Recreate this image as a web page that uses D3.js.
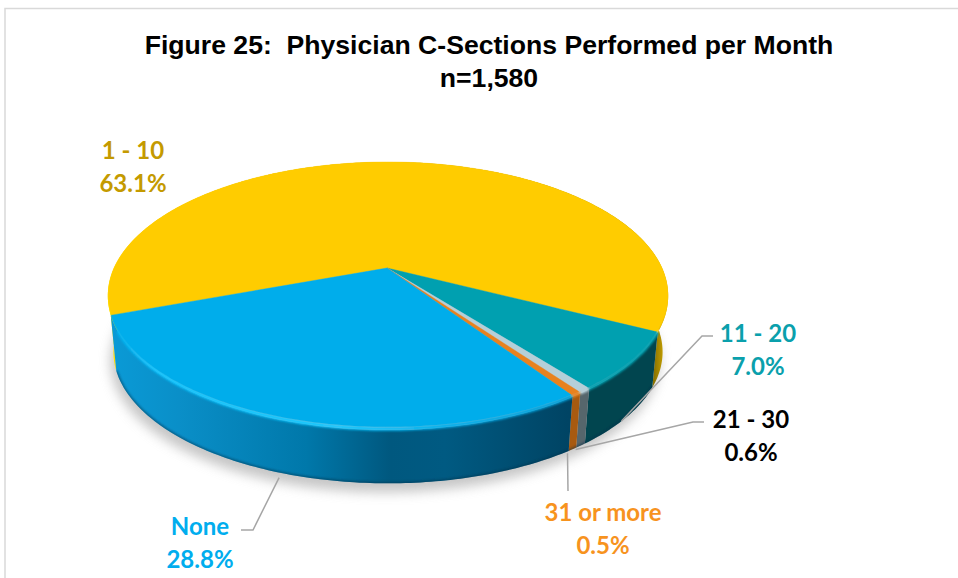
<!DOCTYPE html>
<html>
<head>
<meta charset="utf-8">
<script src="https://cdn.jsdelivr.net/npm/d3@7"></script>
<style>
  html, body { margin: 0; background: #fff; }
  .title { font-family: "Liberation Sans", Arial, sans-serif; font-weight: bold; font-size: 26.6px; fill: #000; white-space: pre; }
  .lab { font-family: Lato, "Open Sans", sans-serif; font-weight: bold; font-size: 24px; }
</style>
</head>
<body>
<svg id="chart" width="958" height="578"></svg>
<script>
var categories = ["1 - 10", "11 - 20", "21 - 30", "31 or more", "None"];
var values = [63.1, 7.0, 0.6, 0.5, 28.8];
var valueLabels = ["63.1%", "7.0%", "0.6%", "0.5%", "28.8%"];
var titleLines = ["Figure 25:  Physician C-Sections Performed per Month", "n=1,580"];

var topColors = ["#ffcc00", "#00a0b0", "#b5cfd8", "#e8821e", "#00adeb"];
var lipColors = ["url(#goldRim)", "#00a0b0", "#b5cfd8", "#e8821e", "url(#shine)"];
var labelColors = ["#c49a00", "#0aa0ac", "#000000", "#f7931e", "#00adee"];
// side wall gradient, left to right of the pie
var sideStops = [
  [[0, "#ffe000"], [0.5, "#c9a000"], [0.95, "#5f5000"], [0.975, "#8a7300"], [1, "#e0b400"]],
  [[0, "#01454f"], [1, "#01454f"]],
  [[0, "#56666c"], [1, "#56666c"]],
  [[0, "#a85a10"], [1, "#a85a10"]],
  [[0, "#0a9ad6"], [0.12, "#0a8fc8"], [0.35, "#0078aa"], [0.5, "#00587f"], [0.6, "#005a82"], [0.82, "#004464"], [1, "#004464"]]
];

// label layout: centre x, first baseline, elbow and end of the leader
var labelX = [133, 758, 751, 603, 200];
var labelY = [159, 342, 428, 521, 535];
var leaders = [null, [[702, 336], [713, 336]], [[693, 422], [704, 422]], [[568, 491]], [[253, 530], [241, 530]]];

var svg = d3.select("#chart");
var defs = svg.append("defs");

var cx = 388, cy = 268;
var k = 0.209;            // perspective of the tilted disc
var A = 274, B = 128.2;
var wallDrop = 56.5, wallShrink = 0.98;

var xScale = d3.scaleLinear().domain([-1, 1]).range([cx - A, cx + A]);
var yScale = d3.scaleLinear().domain([-1, 1]).range([cy - B, cy + B]);

function topPoint(a) {
  var u = Math.sin(a), v = -Math.cos(a), w = 1 - k * v;
  return [xScale(u / w), yScale(v / w)];
}
function wallPoint(a) {
  var p = topPoint(a);
  return [cx + (p[0] - cx) * wallShrink, cy + wallDrop + (p[1] - cy) * wallShrink];
}
// pulled in on the near side only, the far rim stays crisp
function insetPoint(a, amount) {
  var p = topPoint(a);
  var near = Math.max(0, -Math.cos(a));
  return [cx + (p[0] - cx) * (1 - amount * 0.4 * near), cy + (p[1] - cy) * (1 - amount * near)];
}
function sample(a0, a1) {
  var n = Math.max(2, Math.ceil(Math.abs(a1 - a0) / 0.015));
  return d3.range(n + 1).map(function(i) { return a0 + (a1 - a0) * i / n; });
}

var startAngle = -110.1 * Math.PI / 180;
var arcs = d3.pie().sort(null).startAngle(startAngle).endAngle(startAngle + 2 * Math.PI)(values);
var openLine = d3.line();
var closedLine = d3.line().curve(d3.curveLinearClosed);
var whole = sample(0, 2 * Math.PI);

defs.append("filter").attr("id", "shadowBlur")
  .attr("x", "-10%").attr("y", "-10%").attr("width", "120%").attr("height", "120%")
  .append("feGaussianBlur").attr("stdDeviation", 6);
defs.append("filter").attr("id", "edgeBlur")
  .attr("filterUnits", "userSpaceOnUse")
  .attr("x", 0).attr("y", 0).attr("width", 958).attr("height", 578)
  .append("feGaussianBlur").attr("stdDeviation", 1.2);

// keeps the blurred rim on the body of the pie
var clip = defs.append("clipPath").attr("id", "bodyClip");
clip.append("path").attr("d", closedLine(whole.map(topPoint)));
clip.append("path").attr("d", closedLine(whole.map(wallPoint)));
clip.append("path").attr("d", closedLine(whole.map(topPoint).concat(whole.slice().reverse().map(wallPoint))));

var sideGrad = defs.selectAll(".side").data(sideStops).enter().append("linearGradient")
  .attr("class", "side")
  .attr("id", function(d, i) { return "side" + i; })
  .attr("gradientUnits", "userSpaceOnUse")
  .attr("x1", 112).attr("x2", 668).attr("y1", 0).attr("y2", 0);
sideGrad.selectAll("stop").data(function(d) { return d; }).enter().append("stop")
  .attr("offset", function(d) { return d[0]; })
  .attr("stop-color", function(d) { return d[1]; });

var shine = defs.append("linearGradient").attr("id", "shine")
  .attr("gradientUnits", "userSpaceOnUse")
  .attr("x1", 112).attr("x2", 570).attr("y1", 0).attr("y2", 0);
[[0, "#00adeb"], [0.1, "#10c4ff"], [0.5, "#12c6ff"], [0.75, "#00adeb"], [1, "#00a0da"]].forEach(function(s) {
  shine.append("stop").attr("offset", s[0]).attr("stop-color", s[1]);
});
var goldRim = defs.append("linearGradient").attr("id", "goldRim")
  .attr("gradientUnits", "userSpaceOnUse")
  .attr("x1", 108).attr("x2", 170).attr("y1", 0).attr("y2", 0);
[[0, "#ffe400"], [1, "#ffcc00"]].forEach(function(s) {
  goldRim.append("stop").attr("offset", s[0]).attr("stop-color", s[1]);
});

// frame
svg.append("path").attr("d", "M5,578V8.5H958").attr("fill", "none")
  .attr("stroke", "#d9d9d9").attr("stroke-width", 1.5);

// title
svg.selectAll(".title").data(titleLines).enter().append("text")
  .attr("class", "title")
  .attr("x", 489)
  .attr("y", function(d, i) { return 54 + i * 33; })
  .attr("text-anchor", "middle")
  .attr("xml:space", "preserve")
  .text(function(d) { return d; });

// soft shadow under the disc
svg.append("path")
  .attr("d", closedLine(whole.map(function(a) { var p = wallPoint(a); return [p[0] - 3, p[1] + 9]; })))
  .attr("fill", "#a0a0a0").attr("opacity", 0.6)
  .attr("filter", "url(#shadowBlur)");

// side walls
svg.selectAll(".wall").data(arcs).enter().append("path")
  .attr("class", "wall")
  .attr("d", function(d) {
    var as = sample(d.startAngle, d.endAngle);
    return closedLine(as.map(topPoint).concat(as.slice().reverse().map(wallPoint)));
  })
  .attr("fill", function(d, i) { return "url(#side" + i + ")"; });

var rim = svg.append("g").attr("clip-path", "url(#bodyClip)");

// dark fringe along the foot of the wall
rim.selectAll(".foot").data(arcs.slice(1)).enter().append("path")
  .attr("class", "foot")
  .attr("d", function(d) { return openLine(sample(d.startAngle, d.endAngle).map(wallPoint)); })
  .attr("fill", "none")
  .attr("stroke", "#00304a").attr("stroke-opacity", 0.5).attr("stroke-width", 3)
  .attr("filter", "url(#edgeBlur)");

// soft bevel between wall and top face
rim.selectAll(".lip").data(arcs).enter().append("path")
  .attr("class", "lip")
  .attr("d", function(d) {
    return openLine(sample(d.startAngle, d.endAngle).map(function(a) { return insetPoint(a, 0.008); }));
  })
  .attr("fill", "none")
  .attr("stroke", function(d, i) { return lipColors[i]; })
  .attr("stroke-width", function(d, i) { return i === 0 ? 3 : 4; })
  .attr("filter", "url(#edgeBlur)");

// top face
svg.selectAll(".slice").data(arcs).enter().append("path")
  .attr("class", "slice")
  .attr("d", function(d) {
    var pts = sample(d.startAngle, d.endAngle).map(function(a) { return insetPoint(a, 0.02); });
    return closedLine([[cx - 1, cy]].concat(pts));
  })
  .attr("fill", function(d, i) { return topColors[i]; })
  .attr("stroke", function(d, i) { return topColors[i]; })
  .attr("stroke-width", 0.4);

// leader lines
svg.selectAll(".leader").data(arcs).enter().append("path")
  .attr("class", "leader")
  .attr("d", function(d, i) {
    if (!leaders[i]) return null;
    var p = wallPoint((d.startAngle + d.endAngle) / 2);
    return openLine([[p[0] - 5, p[1] + 4]].concat(leaders[i]));
  })
  .attr("fill", "none").attr("stroke", "#a6a6a6").attr("stroke-width", 1.5);

// labels
var labels = svg.selectAll(".lab").data(categories).enter().append("text")
  .attr("class", "lab")
  .attr("text-anchor", "middle")
  .attr("fill", function(d, i) { return labelColors[i]; });
labels.append("tspan")
  .attr("x", function(d, i) { return labelX[i]; })
  .attr("y", function(d, i) { return labelY[i]; })
  .text(function(d) { return d; });
labels.append("tspan")
  .attr("x", function(d, i) { return labelX[i]; })
  .attr("y", function(d, i) { return labelY[i] + 33; })
  .text(function(d, i) { return valueLabels[i]; });
</script>
</body>
</html>
